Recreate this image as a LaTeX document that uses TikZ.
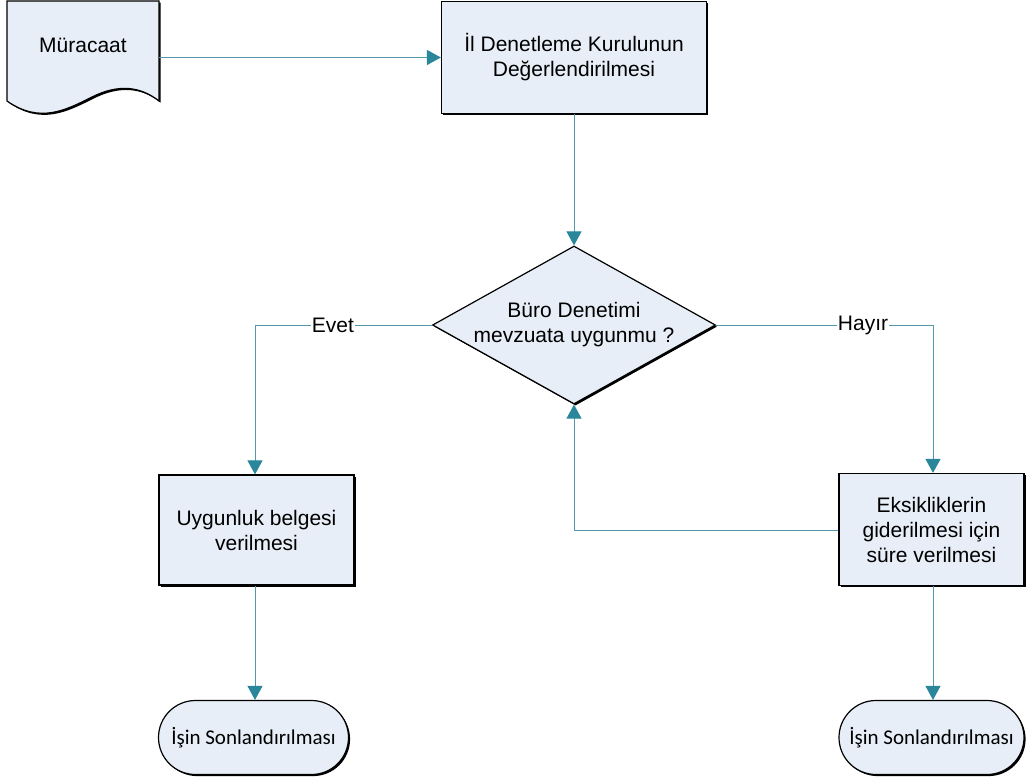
\documentclass[tikz,border=0pt]{standalone}
\usepackage{fontspec}
\setmainfont{Liberation Sans}
\newfontfamily\termfont{Carlito}
\usetikzlibrary{shapes.geometric,arrows.meta,shadows}
\definecolor{boxfill}{RGB}{232,238,247}
\definecolor{conn}{RGB}{84,152,172}
\definecolor{tip}{RGB}{42,134,155}
\tikzset{
  x=1pt,y=-1pt,
  base/.style={draw=black,line width=1.2pt,fill=boxfill,align=center,
    font=\fontsize{21}{25}\selectfont,inner sep=2pt,
    drop shadow={shadow xshift=1.6pt,shadow yshift=-1.6pt,fill=black,opacity=1}},
  procbox/.style={base,rectangle},
  decbox/.style={base,diamond},
  termbox/.style={base,rectangle,rounded corners=37pt,font=\termfont\fontsize{21}{25}\selectfont},
  conline/.style={draw=conn,line width=1pt,-{Triangle[width=15pt,length=14pt,fill=tip,color=tip]}},
  lbl/.style={fill=white,inner sep=1pt,font=\fontsize{21}{25}\selectfont}
}
\begin{document}
\begin{tikzpicture}
\useasboundingbox (0,0) rectangle (1026,782);
% document shape
\draw[line width=1.2pt,fill=boxfill,drop shadow={shadow xshift=1.6pt,shadow yshift=-1.6pt,fill=black,opacity=1}]
  (7,1) -- (159,1) -- (159,101)
  .. controls (140,86) and (118,84) .. (92,97)
  .. controls (66,110) and (40,124) .. (7,101) -- cycle;
\node[draw=none,minimum width=152pt,minimum height=90pt,inner sep=0pt,
  font=\fontsize{21}{25}\selectfont] (doc) at (83,45) {Müracaat};

\node[procbox,minimum width=265pt,minimum height=112pt] (b1) at (574,57.5)
  {İl Denetleme Kurulunun\\Değerlendirilmesi};
\node[decbox,minimum width=283pt,minimum height=158pt,inner sep=0pt,aspect=1.79] (d) at (574,325)
  {Büro Denetimi\\mevzuata uygunmu ?};
\node[procbox,minimum width=195pt,minimum height=110pt] (b2) at (256.5,530)
  {Uygunluk belgesi\\verilmesi};
\node[procbox,minimum width=185pt,minimum height=112pt] (b3) at (931.5,529.5)
  {Eksikliklerin\\giderilmesi için\\süre verilmesi};
\node[termbox,minimum width=190pt,minimum height=74pt] (t1) at (253.5,737.5)
  {İşin Sonlandırılması};
\node[termbox,minimum width=185pt,minimum height=74pt] (t2) at (931.5,737.5)
  {İşin Sonlandırılması};

\coordinate (cl) at (255,325);
\coordinate (cr) at (933,325);
\coordinate (cf) at (574,530);

\draw[conline] (doc.east |- b1.west) -- (b1.west);
\draw[conline] (b1.south) -- (d.north);
\draw[conline] (d.west) -- (cl) -- (cl |- b2.north);
\draw[conline] (d.east) -- (cr) -- (cr |- b3.north);
\draw[conline] (b3.west |- cf) -- (cf) -- (d.south);
\draw[conline] (cl |- b2.south) -- (cl |- t1.north);
\draw[conline] (cr |- b3.south) -- (cr |- t2.north);

\node[lbl] (evet) at (333,325) {Evet};
\node[lbl] (hayir) at (863,325) {Hayır};
\end{tikzpicture}
\end{document}
